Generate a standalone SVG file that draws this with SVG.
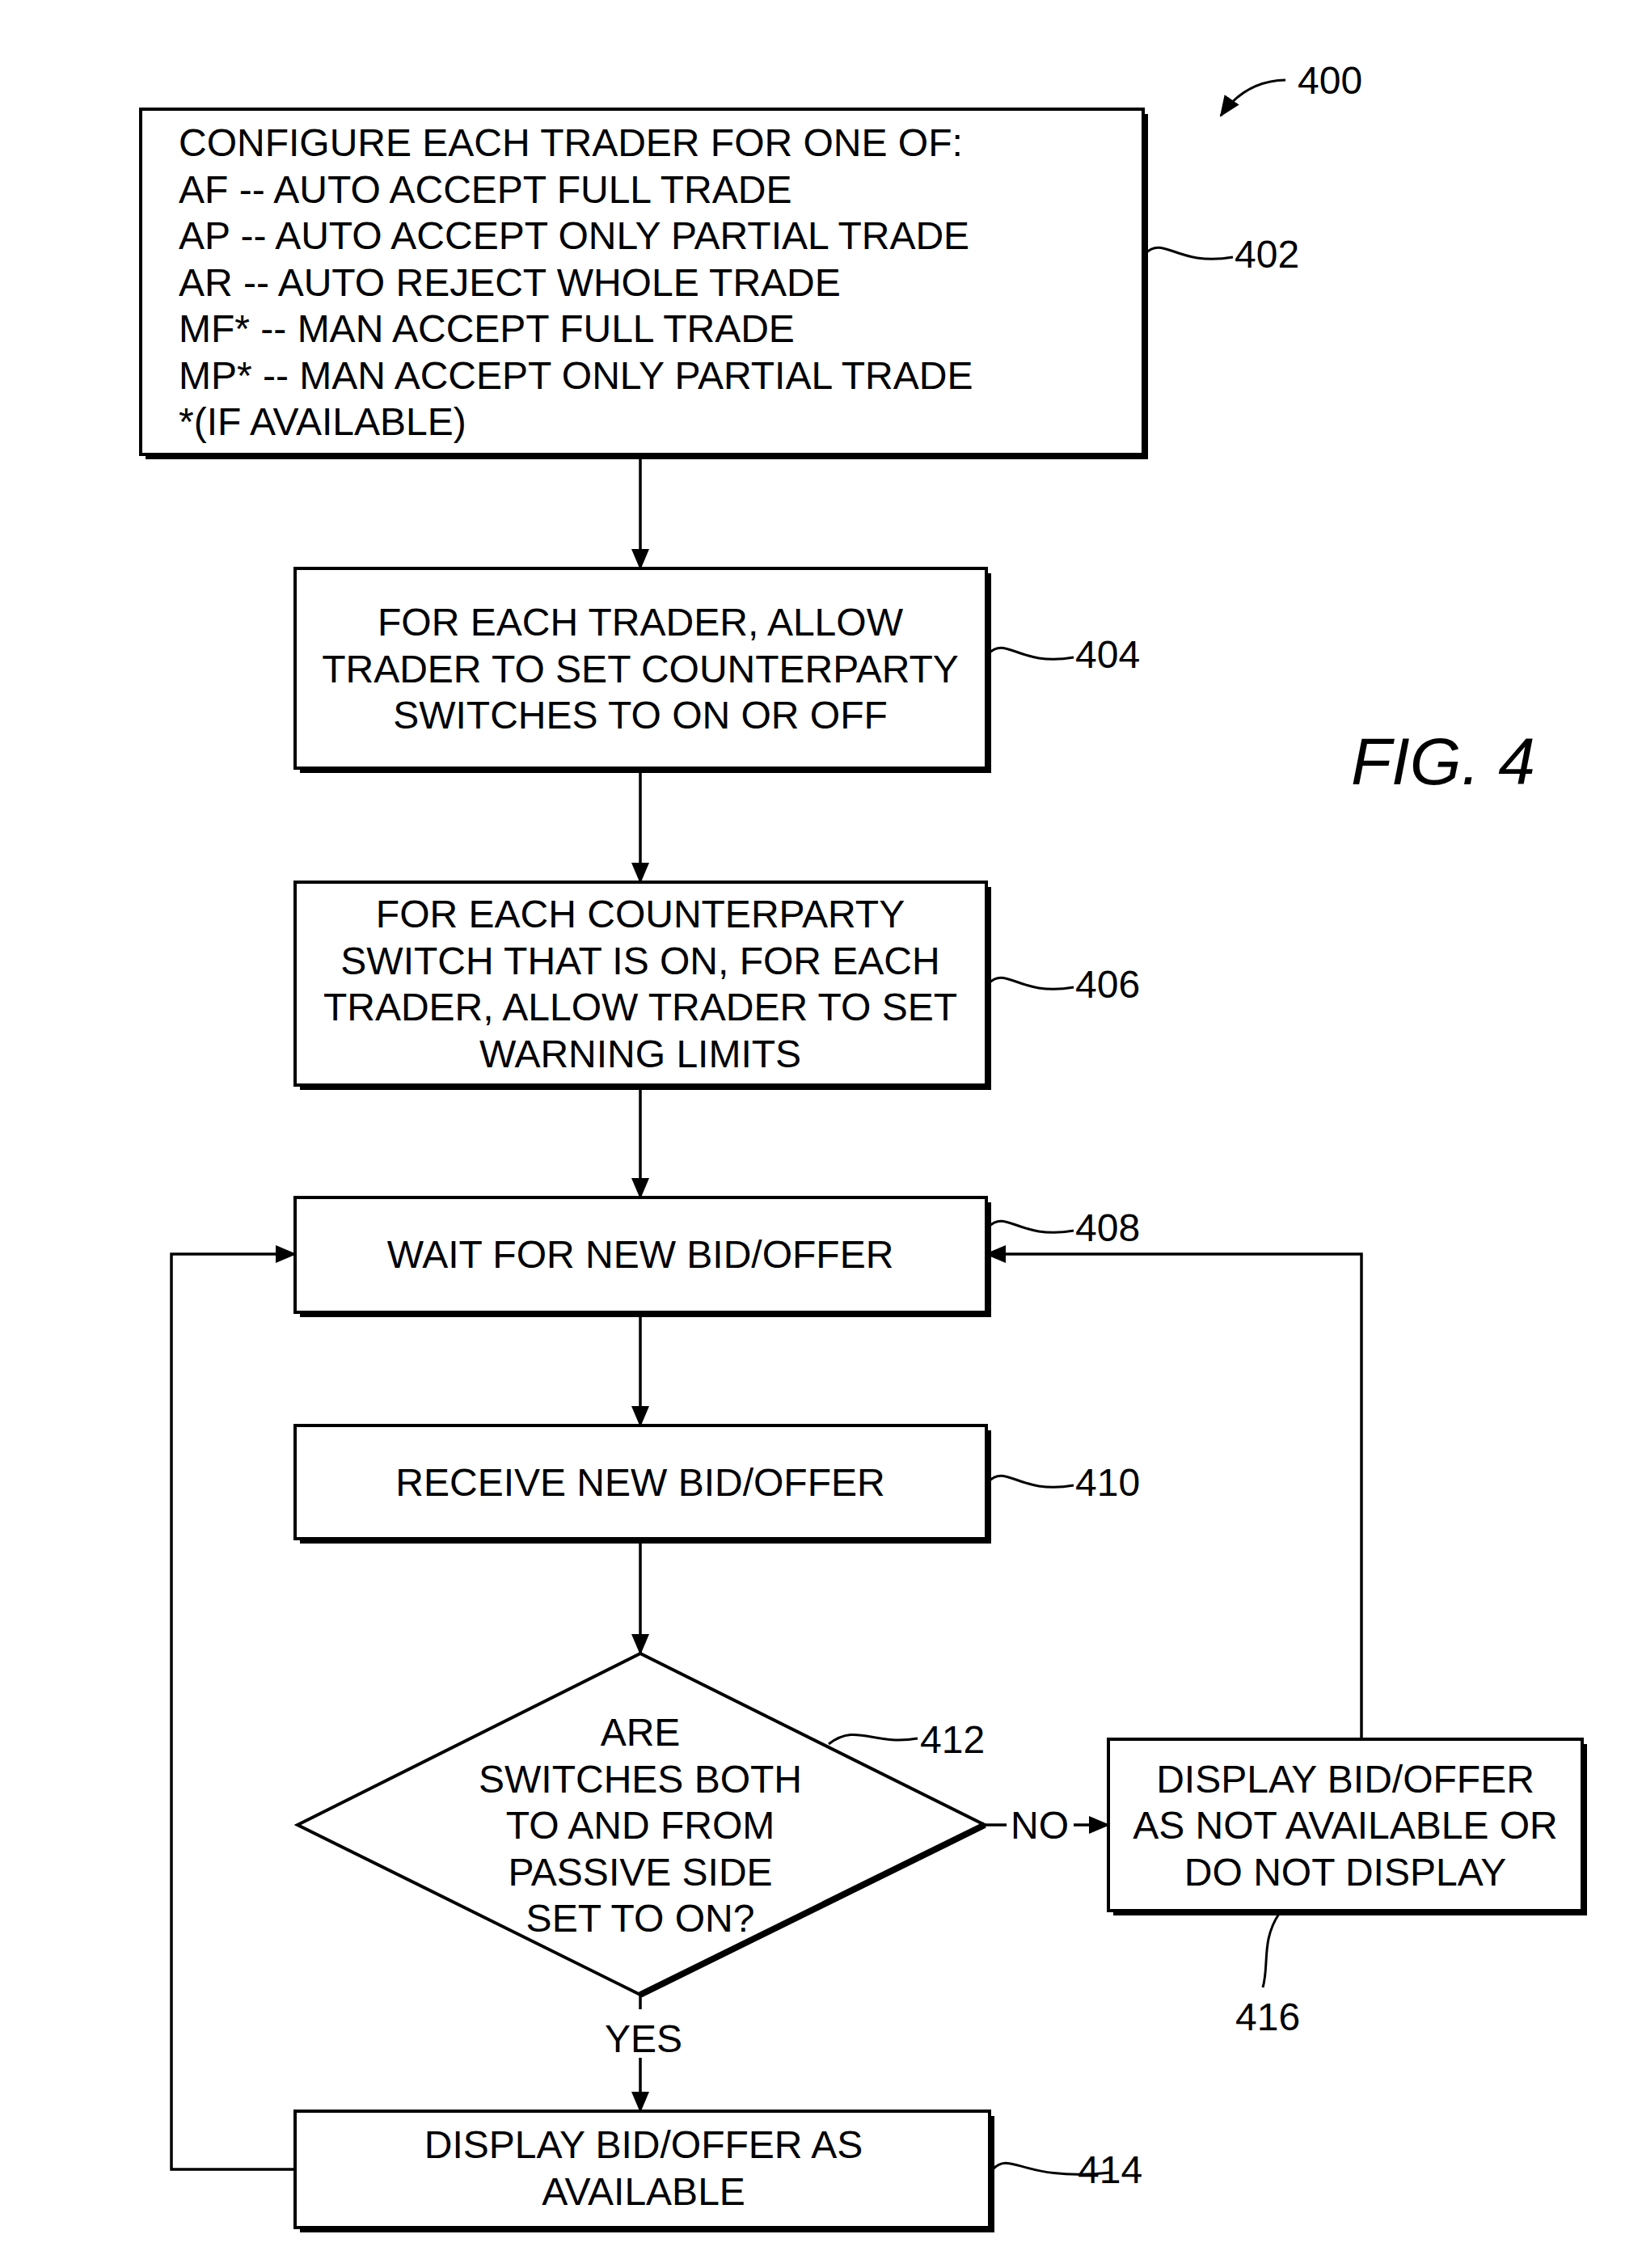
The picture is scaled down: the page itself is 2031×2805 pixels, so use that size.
<svg xmlns="http://www.w3.org/2000/svg" width="2031" height="2805" viewBox="0 0 2031 2805">
<style>
.b{fill:#fff;stroke:#000;stroke-width:4}
.s{fill:#000}
.t{font-family:"Liberation Sans",Arial,sans-serif;font-size:48px;fill:#000}
.c{text-anchor:middle}
.l{fill:none;stroke:#000;stroke-width:3.5}
.q{fill:none;stroke:#000;stroke-width:3}
</style>
<defs><marker id="a" markerWidth="10" markerHeight="10" refX="9" refY="5" orient="auto" markerUnits="userSpaceOnUse" viewBox="0 0 10 10"><path d="M0,0 L10,5 L0,10 z"/></marker>
<marker id="A" markerWidth="26" markerHeight="22" refX="24" refY="11" orient="auto" markerUnits="userSpaceOnUse"><path d="M0,0 L26,11 L0,22 z"/></marker></defs>
<rect width="2031" height="2805" fill="#fff"/>
<g id="n400"><text class="t" x="1605" y="116">400</text><path class="q" d="M1590,99 Q1540,100 1510,143" marker-end="url(#A)"/></g>
<g id="n402"><rect class="s" x="180" y="141" width="1240" height="427"/><rect class="b" x="174" y="135" width="1240" height="427"/>
<text class="t" x="221"><tspan x="221" y="193">CONFIGURE EACH TRADER FOR ONE OF:</tspan><tspan x="221" y="251">AF -- AUTO ACCEPT FULL TRADE</tspan><tspan x="221" y="308">AP -- AUTO ACCEPT ONLY PARTIAL TRADE</tspan><tspan x="221" y="366">AR -- AUTO REJECT WHOLE TRADE</tspan><tspan x="221" y="423">MF* -- MAN ACCEPT FULL TRADE</tspan><tspan x="221" y="481">MP* -- MAN ACCEPT ONLY PARTIAL TRADE</tspan><tspan x="221" y="538">*(IF AVAILABLE)</tspan></text>
<path class="q" d="M1416,314 C1440,290 1455,330 1525,318"/><text class="t" x="1527" y="331">402</text></g>
<g id="n404"><rect class="s" x="371" y="709" width="855" height="247"/><rect class="b" x="365" y="703" width="855" height="247"/>
<text class="t c"><tspan x="792" y="786">FOR EACH TRADER, ALLOW</tspan><tspan x="792" y="844">TRADER TO SET COUNTERPARTY</tspan><tspan x="792" y="901">SWITCHES TO ON OR OFF</tspan></text>
<path class="q" d="M1222,809 C1245,785 1260,825 1328,813"/><text class="t" x="1330" y="826">404</text></g>
<text x="1671" y="970" style="font-family:'Liberation Sans',Arial,sans-serif;font-size:82px;font-style:italic">FIG. 4</text>
<g id="n406"><rect class="s" x="371" y="1097" width="855" height="251"/><rect class="b" x="365" y="1091" width="855" height="251"/>
<text class="t c"><tspan x="792" y="1147">FOR EACH COUNTERPARTY</tspan><tspan x="792" y="1205">SWITCH THAT IS ON, FOR EACH</tspan><tspan x="792" y="1262">TRADER, ALLOW TRADER TO SET</tspan><tspan x="792" y="1320">WARNING LIMITS</tspan></text>
<path class="q" d="M1222,1217 C1245,1193 1260,1233 1328,1221"/><text class="t" x="1330" y="1234">406</text></g>
<g id="n408"><rect class="s" x="371" y="1487" width="855" height="142"/><rect class="b" x="365" y="1481" width="855" height="142"/>
<text class="t c" x="792" y="1568">WAIT FOR NEW BID/OFFER</text>
<path class="q" d="M1222,1518 C1245,1494 1260,1534 1328,1522"/><text class="t" x="1330" y="1535">408</text></g>
<g id="n410"><rect class="s" x="371" y="1769" width="855" height="140"/><rect class="b" x="365" y="1763" width="855" height="140"/>
<text class="t c" x="792" y="1850">RECEIVE NEW BID/OFFER</text>
<path class="q" d="M1222,1833 C1245,1809 1260,1849 1328,1837"/><text class="t" x="1330" y="1850">410</text></g>
<g id="n412"><path d="M368,2257 L792,2045 L1218,2257 L792,2467 Z" fill="#fff" stroke="#000" stroke-width="4"/><path d="M1218,2257 L792,2467" stroke="#000" stroke-width="8"/>
<text class="t c"><tspan x="792" y="2159">ARE</tspan><tspan x="792" y="2217">SWITCHES BOTH</tspan><tspan x="792" y="2274">TO AND FROM</tspan><tspan x="792" y="2332">PASSIVE SIDE</tspan><tspan x="792" y="2389">SET TO ON?</tspan></text>
<path class="q" d="M1025,2157 C1060,2130 1080,2160 1135,2150"/><text class="t" x="1138" y="2168">412</text></g>
<g id="n416"><rect class="s" x="1377" y="2157" width="586" height="212"/><rect class="b" x="1371" y="2151" width="586" height="212"/>
<text class="t c"><tspan x="1664" y="2217">DISPLAY BID/OFFER</tspan><tspan x="1664" y="2274">AS NOT AVAILABLE OR</tspan><tspan x="1664" y="2332">DO NOT DISPLAY</tspan></text>
<path class="q" d="M1582,2367 C1560,2400 1570,2430 1562,2458"/><text class="t" x="1528" y="2511">416</text></g>
<g id="n414"><rect class="s" x="371" y="2617" width="859" height="144"/><rect class="b" x="365" y="2611" width="859" height="144"/>
<text class="t c"><tspan x="796" y="2669">DISPLAY BID/OFFER AS</tspan><tspan x="796" y="2727">AVAILABLE</tspan></text>
<path class="q" d="M1228,2683 C1250,2659 1265,2699 1373,2687"/><text class="t" x="1333" y="2700">414</text></g>
<g id="connectors">
<path class="l" d="M792,562 V703" marker-end="url(#A)"/>
<path class="l" d="M792,950 V1091" marker-end="url(#A)"/>
<path class="l" d="M792,1342 V1481" marker-end="url(#A)"/>
<path class="l" d="M792,1623 V1763" marker-end="url(#A)"/>
<path class="l" d="M792,1903 V2045" marker-end="url(#A)"/>
<text class="t c" x="796" y="2538">YES</text>
<path class="l" d="M792,2545 V2611" marker-end="url(#A)"/>
<path class="l" d="M792,2467 V2485"/>
<text class="t" x="1250" y="2274">NO</text>
<path class="l" d="M1218,2257 H1245"/>
<path class="l" d="M1328,2257 H1371" marker-end="url(#A)"/>
<path class="l" d="M1684,2151 V1551 H1220" marker-end="url(#A)"/>
<path class="l" d="M365,2683 H212 V1551 H365" marker-end="url(#A)"/>
</g>
</svg>
